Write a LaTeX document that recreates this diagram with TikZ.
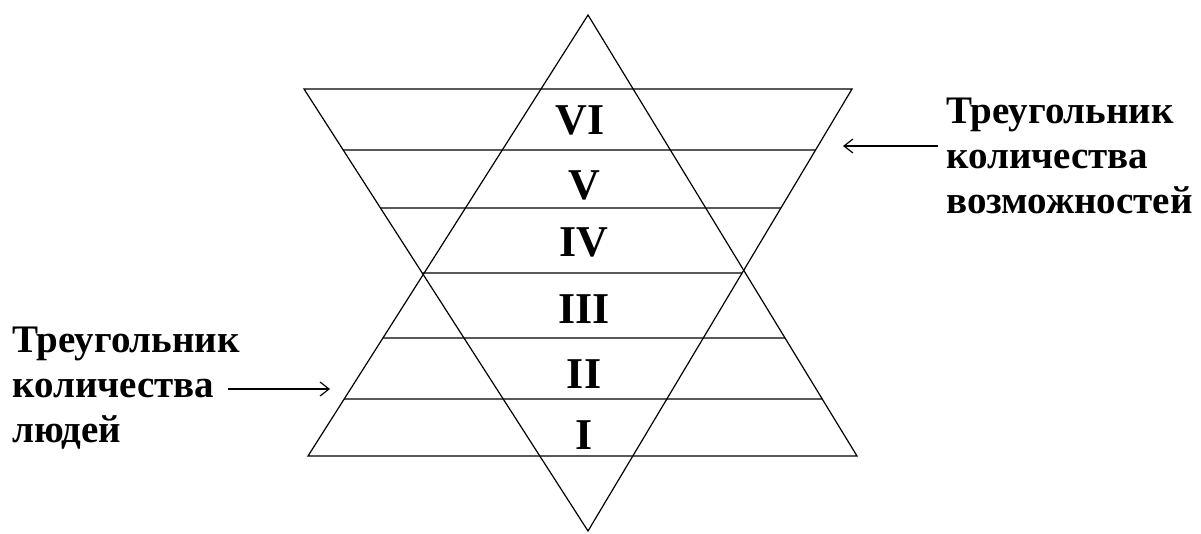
\documentclass[tikz,border=0pt]{standalone}
\usepackage{fontspec}
\setmainfont{Liberation Serif}
\usetikzlibrary{arrows.meta}
\begin{document}
\begin{tikzpicture}[x=1pt,y=-1pt,
  edge/.style={line width=1.2pt,line join=miter},
  numeral/.style={font=\fontsize{44}{44}\selectfont\bfseries, anchor=base, inner sep=0pt},
  caption/.style={font=\fontsize{39}{45}\selectfont\bfseries, align=left, anchor=north west, inner sep=0pt},
  pointer/.style={line width=1.2pt, -{Straight Barb[length=9pt,width=14pt,line width=1.2pt]}}]
\useasboundingbox (0,0) rectangle (1201,533);
\fill[white] (0,0) rectangle (1201,533);
% upright triangle (people)
\coordinate (A) at (588,15);
\coordinate (BL) at (308,456);
\coordinate (BR) at (857,456);
% inverted triangle (possibilities)
\coordinate (TL) at (304,89);
\coordinate (TR) at (852,89);
\coordinate (B) at (588,531);
\draw[edge] (A) -- (BL) -- (BR) -- cycle;
\draw[edge] (TL) -- (TR) -- (B) -- cycle;
\foreach \yy in {150,208,273}
  \draw[edge] (intersection of TL--B and 0,\yy--1,\yy) -- (intersection of TR--B and 0,\yy--1,\yy);
\foreach \yy in {338,399}
  \draw[edge] (intersection of A--BL and 0,\yy--1,\yy) -- (intersection of A--BR and 0,\yy--1,\yy);
% numerals
\node[numeral] (n6) at (580,134) {VI};
\node[numeral] (n5) at (584,199) {V};
\node[numeral] (n4) at (584,256) {IV};
\node[numeral] (n3) at (584,323) {III};
\node[numeral] (n2) at (584,388) {II};
\node[numeral] (n1) at (584,449) {I};
% captions
\node[caption] (lcap) at (12,327) {Треугольник\\количества\\людей};
\node[caption] (rcap) at (946,98) {Треугольник\\количества\\возможностей};
% arrows
\coordinate (la) at (228,389);
\coordinate (lb) at (330,389);
\coordinate (ra) at (938,146);
\coordinate (rb) at (843,146);
\draw[pointer] (la) -- (lb);
\draw[pointer] (ra) -- (rb);
\end{tikzpicture}
\end{document}
